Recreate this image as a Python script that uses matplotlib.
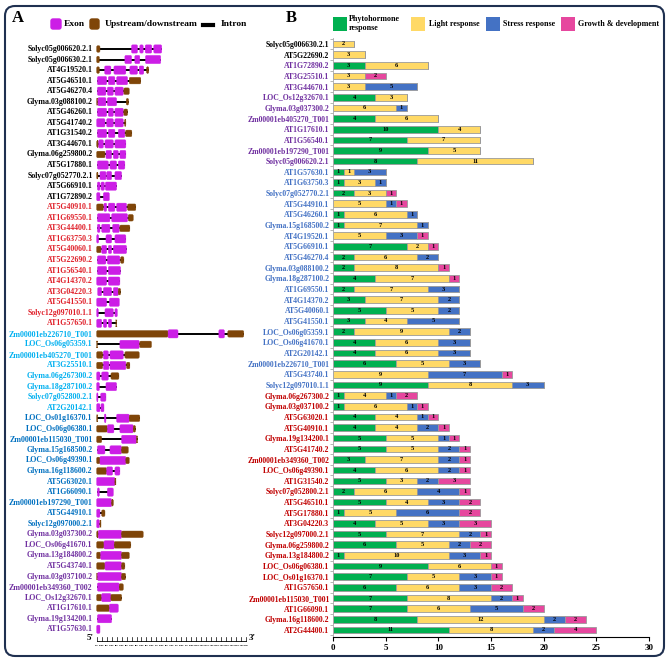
import matplotlib
matplotlib.use("Agg")
import matplotlib.pyplot as plt
import numpy as np
from matplotlib.patches import Rectangle, FancyBboxPatch
from matplotlib.lines import Line2D

plt.rcParams["font.family"] = ["Liberation Serif", "DejaVu Serif"]
plt.rcParams["font.weight"] = "bold"

W, H = 669, 661

# ---------------- Panel A: gene structures (kb from 5' end) ----------------
A_GENES = [
    "Solyc05g006620.2.1", "Solyc05g006630.2.1", "AT4G19520.1", "AT5G46510.1",
    "AT5G46270.4", "Glyma.03g088100.2", "AT5G46260.1", "AT5G41740.2",
    "AT1G31540.2", "AT3G44670.1", "Glyma.06g259800.2", "AT5G17880.1",
    "Solyc07g052770.2.1", "AT5G66910.1", "AT1G72890.2",
    "AT5G40910.1", "AT1G69550.1", "AT3G44400.1", "AT1G63750.3", "AT5G40060.1",
    "AT5G22690.2", "AT1G56540.1", "AT4G14370.2", "AT3G04220.3", "AT5G41550.1",
    "Solyc12g097010.1.1", "AT1G57650.1",
    "Zm00001eb226710_T001", "LOC_Os06g05359.1", "Zm00001eb405270_T001",
    "AT3G25510.1", "Glyma.06g267300.2", "Glyma.18g287100.2",
    "Solyc07g052800.2.1", "AT2G20142.1",
    "LOC_Os01g16370.1", "LOC_Os06g06380.1", "Zm00001eb115030_T001",
    "Glyma.15g168500.2", "LOC_Os06g49390.1", "Glyma.16g118600.2",
    "AT5G63020.1", "AT1G66090.1", "Zm00001eb197290_T001", "AT5G44910.1",
    "Solyc12g097000.2.1",
    "Glyma.03g037300.2", "LOC_Os06g41670.1", "Glyma.13g184800.2",
    "AT5G43740.1", "Glyma.03g037100.2", "Zm00001eb349360_T002",
    "LOC_Os12g32670.1", "AT1G17610.1", "Glyma.19g134200.1", "AT1G57630.1",
]
A_GROUP_SIZES = [15, 12, 8, 11, 10]
A_GROUP_COLORS = ["#000000", "#E0202A", "#00B0F0", "#0070C0", "#7030A0"]

# (kind, start, end): 'u' = upstream/downstream, 'e' = exon
A_STRUCT = [
    [("u", 0, 0.33), ("e", 3.5, 4.1), ("e", 4.33, 4.67), ("e", 4.87, 5.53), ("e", 5.73, 6.53)],
    [("u", 0, 0.27), ("e", 2.83, 3.5), ("e", 3.83, 4.33), ("e", 4.9, 6.43)],
    [("u", 0, 0.27), ("e", 0.8, 1.43), ("e", 1.73, 2.93), ("e", 3.33, 4.1), ("e", 4.27, 4.73), ("u", 5.0, 5.23)],
    [("e", 0.07, 1.0), ("e", 1.17, 1.83), ("e", 2.0, 3.1), ("u", 3.27, 4.43)],
    [("e", 0.07, 0.93), ("e", 1.07, 1.67), ("e", 1.83, 2.67), ("u", 2.73, 3.27)],
    [("u", 0, 0.1), ("e", 0.13, 0.93), ("e", 1.07, 2.0), ("u", 2.97, 3.2)],
    [("e", 0.07, 1.0), ("e", 1.17, 1.67), ("e", 1.83, 2.67), ("u", 2.73, 3.1)],
    [("e", 0.0, 0.83), ("e", 1.0, 1.67), ("e", 1.83, 2.67), ("u", 2.8, 2.93)],
    [("e", 0.07, 1.0), ("e", 1.17, 1.83), ("e", 2.17, 2.83), ("u", 2.9, 3.53)],
    [("u", 0, 0.17), ("e", 0.2, 0.67), ("e", 0.83, 1.67), ("e", 1.83, 2.93)],
    [("u", 0, 0.83), ("e", 0.93, 1.5), ("e", 1.67, 2.17), ("e", 2.33, 2.93)],
    [("e", 0.07, 1.17), ("e", 1.33, 2.0), ("e", 2.17, 2.83)],
    [("u", 0, 0.13), ("e", 0.33, 0.93), ("e", 1.0, 1.5), ("e", 1.83, 2.5)],
    [("e", 0.07, 0.33), ("e", 0.43, 0.77), ("e", 0.87, 2.0)],
    [("e", 0, 0.33), ("e", 0.67, 1.27)],
    [("u", 0, 0.67), ("e", 0.73, 1.0), ("e", 1.17, 1.83), ("e", 2.0, 3.0), ("u", 3.1, 3.93)],
    [("e", 0.07, 1.33), ("e", 1.5, 3.1), ("u", 3.17, 3.67)],
    [("e", 0.07, 0.33), ("e", 0.5, 1.33), ("e", 1.6, 2.27), ("u", 2.33, 3.33)],
    [("e", 0, 0.2), ("e", 0.93, 1.5), ("e", 1.83, 2.93)],
    [("u", 0, 0.43), ("e", 0.5, 1.0), ("e", 1.17, 1.5), ("e", 1.67, 3.0)],
    [("e", 0.07, 0.93), ("e", 1.07, 2.33), ("u", 2.4, 2.73)],
    [("e", 0.07, 1.0), ("e", 1.17, 2.4)],
    [("e", 0, 1.0), ("e", 1.17, 2.33)],
    [("e", 0.1, 0.5), ("e", 0.67, 1.5), ("e", 1.67, 2.17), ("u", 2.17, 2.4)],
    [("e", 0, 1.0), ("e", 1.27, 2.27)],
    [("e", 0, 0.17), ("e", 0.83, 1.67), ("e", 1.83, 2.07)],
    [("e", 0, 0.5), ("e", 0.67, 1.0), ("e", 1.17, 1.5), ("u", 1.93, 2.0)],
    [("u", 0, 7.17), ("e", 7.17, 8.17), ("e", 12.27, 12.83), ("u", 13.17, 14.77)],
    [("u", 0, 0.07), ("e", 2.33, 4.27), ("u", 4.33, 5.5)],
    [("u", 0, 0.6), ("e", 0.67, 1.17), ("e", 1.33, 2.67), ("u", 2.83, 4.27)],
    [("u", 0, 0.6), ("e", 0.67, 1.23), ("e", 1.33, 2.93), ("u", 3.0, 3.33)],
    [("e", 0, 0.33), ("e", 0.5, 1.17), ("u", 1.43, 2.23)],
    [("e", 0, 0.27), ("e", 0.93, 2.0)],
    [("e", 0, 0.13), ("e", 0.4, 0.93)],
    [("e", 0, 0.33), ("e", 0.43, 0.73)],
    [("u", 0, 0.1), ("e", 0.77, 0.93), ("e", 2.0, 3.27), ("u", 3.27, 4.33)],
    [("u", 0, 1.07), ("e", 1.07, 1.73), ("e", 2.33, 3.67), ("u", 3.67, 3.9)],
    [("u", 0, 0.5), ("e", 2.5, 4.0), ("u", 4.0, 4.1)],
    [("e", 0.07, 0.83), ("e", 1.33, 2.5), ("u", 2.5, 3.17)],
    [("u", 0, 0.33), ("e", 0.33, 2.93), ("u", 2.93, 3.27)],
    [("u", 0, 1.0), ("e", 1.0, 1.6), ("e", 1.83, 2.33)],
    [("e", 0, 1.83), ("u", 1.83, 1.93)],
    [("e", 0.07, 0.27), ("e", 1.07, 1.67)],
    [("e", 0, 1.5), ("u", 1.5, 1.67)],
    [("e", 0, 0.33), ("u", 0.5, 0.83)],
    [("e", 0, 0.27), ("u", 0.33, 0.43)],
    [("u", 0, 0.17), ("e", 0.17, 2.5), ("u", 2.5, 4.67)],
    [("u", 0, 0.73), ("e", 0.73, 1.77), ("u", 1.77, 3.43)],
    [("u", 0, 0.4), ("e", 0.4, 2.5), ("u", 2.5, 3.27)],
    [("u", 0, 0.83), ("e", 0.83, 2.5), ("u", 2.5, 2.83)],
    [("u", 0, 0.1), ("e", 0.1, 2.5), ("u", 2.5, 2.9)],
    [("e", 0.07, 2.27), ("u", 2.27, 2.67)],
    [("u", 0, 0.5), ("e", 0.5, 1.43), ("u", 1.43, 2.5)],
    [("u", 0, 1.27), ("e", 1.27, 2.17)],
    [("e", 0.07, 1.5)],
    [("e", 0, 0.33)],
]
RULER_KB = 15.0

# ---------------- Panel B: cis-element counts ----------------
B_GENES = [
    "Solyc05g006630.2.1", "AT5G22690.2",
    "AT1G72890.2", "AT3G25510.1", "AT3G44670.1", "LOC_Os12g32670.1",
    "Glyma.03g037300.2", "Zm00001eb405270_T001", "AT1G17610.1", "AT1G56540.1",
    "Zm00001eb197290_T001", "Solyc05g006620.2.1",
    "AT1G57630.1", "AT1G63750.3", "Solyc07g052770.2.1", "AT5G44910.1",
    "AT5G46260.1", "Glyma.15g168500.2", "AT4G19520.1", "AT5G66910.1",
    "AT5G46270.4", "Glyma.03g088100.2", "Glyma.18g287100.2", "AT1G69550.1",
    "AT4G14370.2", "AT5G40060.1", "AT5G41550.1", "LOC_Os06g05359.1",
    "LOC_Os06g41670.1", "AT2G20142.1", "Zm00001eb226710_T001", "AT5G43740.1",
    "Solyc12g097010.1.1",
    "Glyma.06g267300.2", "Glyma.03g037100.2", "AT5G63020.1", "AT5G40910.1",
    "Glyma.19g134200.1", "AT5G41740.2", "Zm00001eb349360_T002",
    "LOC_Os06g49390.1", "AT1G31540.2", "Solyc07g052800.2.1", "AT5G46510.1",
    "AT5G17880.1", "AT3G04220.3", "Solyc12g097000.2.1", "Glyma.06g259800.2",
    "Glyma.13g184800.2", "LOC_Os06g06380.1", "LOC_Os01g16370.1", "AT1G57650.1",
    "Zm00001eb115030_T001", "AT1G66090.1", "Glyma.16g118600.2", "AT2G44400.1",
]
B_GROUP_SIZES = [2, 10, 21, 23]
B_GROUP_COLORS = ["#000000", "#7030A0", "#4472C4", "#C00000"]

phyto = [0, 0, 3, 0, 0, 4, 0, 4, 10, 7, 9, 8,
         1, 1, 2, 0, 1, 1, 0, 7, 2, 2, 4, 2, 3, 5, 3, 2, 4, 4, 6, 0, 9,
         1, 1, 4, 4, 5, 5, 3, 4, 5, 2, 5, 1, 4, 5, 6, 1, 9, 7, 6, 7, 7, 8, 11]
light = [2, 3, 6, 3, 3, 3, 6, 6, 4, 7, 5, 11,
         1, 3, 3, 5, 6, 7, 5, 2, 6, 8, 7, 7, 7, 5, 4, 9, 6, 6, 5, 9, 8,
         4, 6, 4, 4, 5, 5, 7, 6, 3, 6, 4, 5, 5, 7, 5, 10, 6, 5, 6, 8, 6, 12, 8]
stress = [0, 0, 0, 0, 5, 0, 1, 0, 0, 0, 0, 0,
          3, 1, 0, 1, 1, 1, 3, 0, 2, 0, 0, 3, 2, 2, 5, 2, 3, 3, 3, 7, 3,
          1, 1, 1, 2, 1, 2, 2, 2, 2, 4, 3, 6, 3, 2, 2, 3, 0, 3, 3, 2, 5, 2, 2]
growth = [0, 0, 0, 2, 0, 0, 0, 0, 0, 0, 0, 0,
          0, 0, 1, 1, 0, 0, 1, 1, 0, 1, 1, 0, 0, 0, 0, 0, 0, 0, 0, 1, 0,
          2, 1, 1, 1, 1, 1, 1, 1, 3, 1, 2, 2, 3, 1, 2, 1, 1, 1, 2, 1, 2, 2, 4]
CATEGORIES = ["Phytohormone\nresponse", "Light response", "Stress response", "Growth & development"]
CAT_COLORS = ["#00B050", "#FFD966", "#4472C4", "#E6479E"]

EXON_C = "#CC1EE6"
UTR_C = "#7F4508"


def expand(sizes, colors):
    out = []
    for n, c in zip(sizes, colors):
        out += [c] * n
    return out


def fx(x):
    return x / W


def fy(y):
    return 1 - y / H


fig = plt.figure(figsize=(W / 100, H / 100), dpi=100)

# outer rounded frame
fig.add_artist(FancyBboxPatch((fx(5), fy(656)), fx(664) - fx(5), fy(6) - fy(656),
                              boxstyle="round,pad=0,rounding_size=0.015",
                              transform=fig.transFigure, fc="none", ec="#1F3050", lw=1.5))

# ---------- panel A ----------
ax_a = fig.add_axes([fx(95), fy(655), (250 - 95) / W, (655 - 38) / H])
ax_a.set_xlim(-0.17, 15.4)
ax_a.set_ylim(58.44, -0.04)
ax_a.axis("off")
a_colors = expand(A_GROUP_SIZES, A_GROUP_COLORS)
for i, (name, segs) in enumerate(zip(A_GENES, A_STRUCT)):
    r = i + 1
    lo = min(s for _, s, _ in segs)
    hi = max(e for _, _, e in segs)
    ax_a.plot([lo, hi], [r, r], color="black", lw=1.4, zorder=1, solid_capstyle="butt")
    for kind, s, e in segs:
        if kind == "e":
            h, c = 0.78, EXON_C
        else:
            h, c = 0.62, UTR_C
        ax_a.add_patch(FancyBboxPatch((s, r - h / 2), e - s, h,
                                      boxstyle="round,pad=0,rounding_size=0.12",
                                      fc=c, ec=c, lw=0.3, zorder=2))
    ax_a.text(-0.4, r, name, ha="right", va="center", fontsize=5.7,
              color=a_colors[i], clip_on=False)

# ruler
ry = 57.1
ax_a.plot([0, RULER_KB], [ry, ry], color="black", lw=0.6)
ticks = np.arange(0, RULER_KB + 0.01, 0.5)
for t in ticks:
    ax_a.plot([t, t], [ry, ry - 0.4], color="black", lw=0.5)
    ax_a.text(t, ry + 0.45, f"{t:g}kb", ha="center", va="center", fontsize=1.6)
ax_a.text(-0.35, ry - 0.25, "5'", ha="right", va="center", fontsize=6.5, clip_on=False)
ax_a.text(RULER_KB + 0.3, ry - 0.25, "3'", ha="left", va="center", fontsize=6.5, clip_on=False)

# legend A
fig.add_artist(FancyBboxPatch((fx(51), fy(29)), fx(10), fy(0) - fy(10),
                              boxstyle="round,pad=0,rounding_size=0.003",
                              transform=fig.transFigure, fc=EXON_C, ec=EXON_C))
fig.text(fx(64), fy(24), "Exon", ha="left", va="center", fontsize=6.8)
fig.add_artist(FancyBboxPatch((fx(90), fy(29)), fx(9), fy(0) - fy(10),
                              boxstyle="round,pad=0,rounding_size=0.003",
                              transform=fig.transFigure, fc=UTR_C, ec=UTR_C))
fig.text(fx(105), fy(24), "Upstream/downstream", ha="left", va="center", fontsize=6.8)
fig.add_artist(Line2D([fx(203), fx(213)], [fy(24.5), fy(24.5)], color="black", lw=3,
                      transform=fig.transFigure))
fig.text(fx(221), fy(24), "Intron", ha="left", va="center", fontsize=6.8)
fig.text(fx(12), fy(18), "A", ha="left", va="center", fontsize=12)
fig.text(fx(286), fy(18), "B", ha="left", va="center", fontsize=12)

# ---------- panel B ----------
ax_b = fig.add_axes([fx(333), fy(637), (649 - 333) / W, (637 - 38) / H])
rows = np.arange(1, len(B_GENES) + 1)
left = np.zeros(len(rows))
for vals, col in zip([phyto, light, stress, growth], CAT_COLORS):
    v = np.array(vals, dtype=float)
    ax_b.barh(rows, v, left=left, height=0.62, color=col, edgecolor="#9A9A9A", lw=0.6)
    for y, l, w in zip(rows, left, v):
        if w > 0:
            ax_b.text(l + w / 2, y, f"{int(w)}", ha="center", va="center", fontsize=4.6)
    left = left + v

ax_b.set_xlim(0, 30)
ax_b.set_ylim(56.66, 0.44)
ax_b.set_xticks(np.arange(0, 31, 5))
ax_b.tick_params(axis="x", labelsize=6.5, length=3, width=0.8, pad=2)
ax_b.set_yticks(rows)
ax_b.set_yticklabels(B_GENES, fontsize=5.6)
ax_b.tick_params(axis="y", length=0, pad=2.5)
ax_b.set_yticks(np.arange(0.5, len(rows) + 1, 1), minor=True)
ax_b.tick_params(axis="y", which="minor", length=2, color="#999999", width=0.5)
for lab, c in zip(ax_b.get_yticklabels(), expand(B_GROUP_SIZES, B_GROUP_COLORS)):
    lab.set_color(c)
for s in ["top", "right"]:
    ax_b.spines[s].set_visible(False)
ax_b.spines["left"].set_color("#AAAAAA")
ax_b.spines["left"].set_linewidth(0.6)
ax_b.spines["bottom"].set_linewidth(0.8)

# legend B
leg_x = [(333, 349), (411, 429), (486, 503), (561, 578)]
for (sx, tx), lab, col in zip(leg_x, CATEGORIES, CAT_COLORS):
    fig.add_artist(Rectangle((fx(sx), fy(31)), fx(14), fy(0) - fy(14),
                             transform=fig.transFigure, fc=col, ec="none"))
    fig.text(fx(tx), fy(23.5), lab, ha="left", va="center", fontsize=5.8, linespacing=1.05)

fig.savefig("out.png", dpi=100)
